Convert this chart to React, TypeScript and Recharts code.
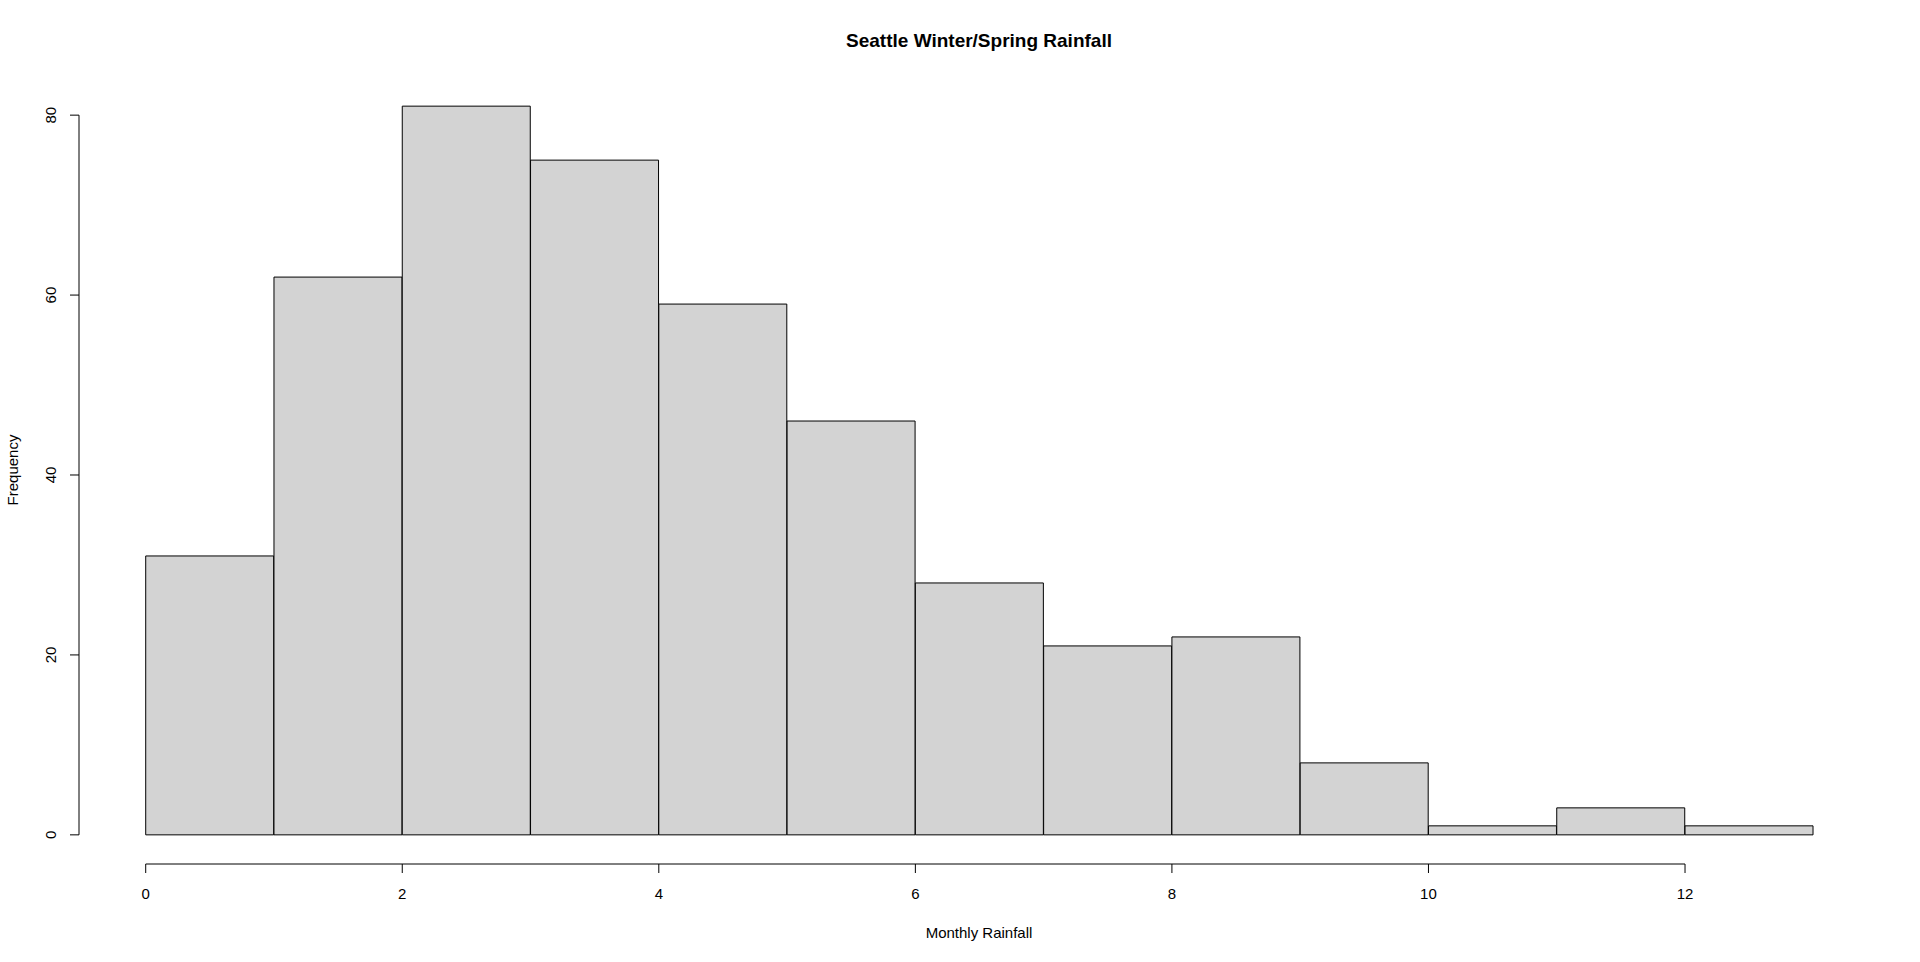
import React from 'react';
import { BarChart, Bar, XAxis, YAxis, ReferenceLine } from 'recharts';

// histogram bins (monthly rainfall, inches) and counts
const binEdges = [0, 1, 2, 3, 4, 5, 6, 7, 8, 9, 10, 11, 12, 13];
const counts = [31, 62, 81, 75, 59, 46, 28, 21, 22, 8, 1, 3, 1];
const xTicks = [0, 2, 4, 6, 8, 10, 12];
const yTicks = [0, 20, 40, 60, 80];

const title = 'Seattle Winter/Spring Rainfall';
const xLabel = 'Monthly Rainfall';
const yLabel = 'Frequency';

const data = counts.map((count, i) => ({
  bin: `${binEdges[i]}-${binEdges[i + 1]}`,
  lo: binEdges[i],
  hi: binEdges[i + 1],
  count,
}));

const W = 1920;
const H = 962;
const FONT = '"Liberation Sans", Arial, sans-serif';

// R style 4% range extension
const xMin = binEdges[0];
const xMax = binEdges[binEdges.length - 1];
const xExt = (xMax - xMin) * 0.04;
const yMaxData = Math.max(...counts);
const yExt = yMaxData * 0.04;

const plotLeft = 79;
const plotRight = 1880;
const plotTop = 77;
const plotBottom = 864;
const xAxisHeight = 40;
const plotW = plotRight - plotLeft;
const barPad = (plotW * xExt) / (xMax - xMin + 2 * xExt);

const YTick = (props: any) => {
  const { x, y, payload } = props;
  return (
    <text
      x={x}
      y={y}
      transform={`rotate(-90, ${x}, ${y})`}
      textAnchor="middle"
      fontSize={15}
      fontFamily={FONT}
      fill="#000"
    >
      {payload.value}
    </text>
  );
};

const XTick = (props: any) => {
  const { x, y, payload } = props;
  return (
    <text x={x} y={y} textAnchor="middle" fontSize={15} fontFamily={FONT} fill="#000">
      {payload.value}
    </text>
  );
};

export default function App() {
  return (
    <div style={{ position: 'absolute', left: 0, top: 0, width: W, height: H, background: '#fff' }}>
      <BarChart
        width={W}
        height={H}
        data={data}
        barCategoryGap={0}
        barGap={0}
        margin={{ top: plotTop, right: W - plotRight, bottom: H - plotBottom - xAxisHeight, left: 0 }}
      >
        <XAxis
          xAxisId="cat"
          dataKey="bin"
          hide
          orientation="top"
          height={0}
          padding={{ left: barPad, right: barPad }}
        />
        <XAxis
          xAxisId="num"
          dataKey="lo"
          type="number"
          domain={[xMin - xExt, xMax + xExt]}
          allowDataOverflow
          ticks={xTicks}
          interval={0}
          axisLine={false}
          tickLine={{ stroke: '#000', strokeWidth: 1 }}
          tickSize={9}
          tickMargin={26}
          height={xAxisHeight}
          tick={<XTick />}
        />
        <YAxis
          type="number"
          domain={[-yExt, yMaxData + yExt]}
          allowDataOverflow
          ticks={yTicks}
          interval={0}
          axisLine={false}
          tickLine={{ stroke: '#000', strokeWidth: 1 }}
          tickSize={9}
          tickMargin={14}
          width={plotLeft}
          tick={<YTick />}
        />
        <Bar
          xAxisId="cat"
          dataKey="count"
          fill="#D3D3D3"
          stroke="#000"
          strokeWidth={1}
          isAnimationActive={false}
        />
        <ReferenceLine
          xAxisId="num"
          segment={[
            { x: xTicks[0], y: -yExt },
            { x: xTicks[xTicks.length - 1], y: -yExt },
          ]}
          stroke="#000"
          strokeWidth={1}
          ifOverflow="visible"
        />
        <ReferenceLine
          xAxisId="num"
          segment={[
            { x: xMin - xExt, y: yTicks[0] },
            { x: xMin - xExt, y: yTicks[yTicks.length - 1] },
          ]}
          stroke="#000"
          strokeWidth={1}
          ifOverflow="visible"
        />
      </BarChart>
      <svg
        width={W}
        height={H}
        style={{ position: 'absolute', left: 0, top: 0, pointerEvents: 'none' }}
      >
        <text x={979} y={47} textAnchor="middle" fontSize={19} fontWeight="bold" fontFamily={FONT} fill="#000">
          {title}
        </text>
        <text x={979} y={938} textAnchor="middle" fontSize={15} fontFamily={FONT} fill="#000">
          {xLabel}
        </text>
        <text
          x={18}
          y={470}
          transform="rotate(-90, 18, 470)"
          textAnchor="middle"
          fontSize={15}
          fontFamily={FONT}
          fill="#000"
        >
          {yLabel}
        </text>
      </svg>
    </div>
  );
}
